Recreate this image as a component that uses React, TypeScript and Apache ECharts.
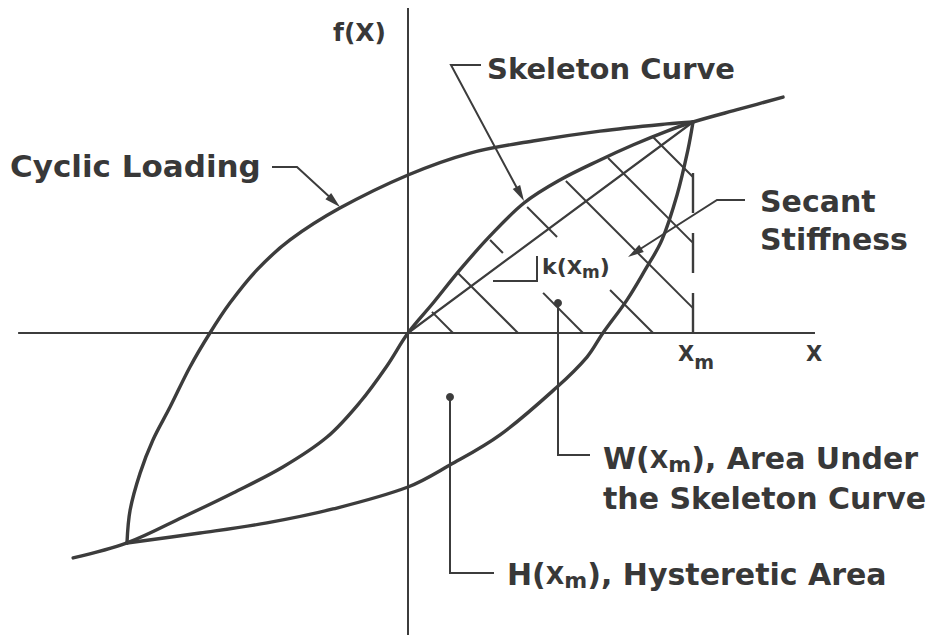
import React, { useEffect, useRef } from 'react';
import * as echarts from 'echarts';

// Diagram units: x in percent of X_m, y in percent of f(X_m)
const skeletonCurve: number[][] = [
  [-117.5, -106.6], [-98.6, -99.5], [-78.9, -87.2], [-61.4, -75.8], [-43.9, -63.5],
  [-28.4, -49.3], [-16.8, -32.7], [-7.4, -15.6], [0, 0], [8.8, 14.2], [18.2, 29.9],
  [28.8, 46.0], [40.7, 61.6], [53.3, 72.5], [67.4, 82.0], [78.9, 89.1], [90.9, 95.7],
  [100, 100], [116.5, 106.2], [131.6, 111.8],
];

const unloadingBranch: number[][] = [
  [100, 100], [90.9, 99.1], [67.4, 95.7], [43.9, 91.0], [21.8, 85.3], [0, 74.9],
  [-23.9, 59.2], [-41.4, 44.1], [-53.0, 29.9], [-62.5, 14.2], [-69.5, 0], [-76.5, -16.1],
  [-83.5, -35.1], [-89.5, -50.7], [-94.0, -66.4], [-97.5, -83.9], [-98.6, -99.5],
];

const reloadingBranch: number[][] = [
  [-98.6, -99.5], [-73.0, -94.8], [-49.5, -90.0], [-26.3, -83.4], [0, -73.0], [14.7, -62.6],
  [32.3, -48.3], [52.3, -25.6], [62.8, -11.4], [68.4, 0], [76.8, 15.6], [83.2, 29.9],
  [89.1, 44.1], [94.4, 65.4], [98.2, 86.7], [100, 100],
];

const secantLine: number[][] = [[0, 0], [100, 100]];
const xmMarker: number[][] = [[100, 75.8], [100, 0]];
const xAxisLine: number[][] = [[-136.8, 0], [142.8, 0]];
const yAxisLine: number[][] = [[0, 154.0], [0, -143.1]];

const hatchSegments: number[][][] = [
  [[8.4, 10.0], [15.8, 0]],
  [[17.5, 28.4], [38.6, 0]],
  [[28.8, 44.1], [33.3, 37.9]],
  [[47.4, 19.0], [61.4, 0]],
  [[41.8, 59.7], [52.3, 45.5]],
  [[70.9, 20.4], [86.0, 0]],
  [[55.4, 72.0], [100, 11.8]],
  [[70.2, 82.9], [100, 42.7]],
  [[85.6, 93.4], [100, 73.9]],
];

const labelFx = 'f(X)';
const labelCyclic = 'Cyclic Loading';
const labelSkeleton = 'Skeleton Curve';
const labelSecant = 'Secant\nStiffness';
const labelAxisX = 'X';

// ---- layout ----
const W = 947;
const H = 635;
const ORIGIN_X = 408;
const ORIGIN_Y = 333;
const PX_PER_X = 2.85;
const PX_PER_Y = 2.11;
const X_MIN = -ORIGIN_X / PX_PER_X;
const X_MAX = (W - ORIGIN_X) / PX_PER_X;
const Y_MIN = -(H - ORIGIN_Y) / PX_PER_Y;
const Y_MAX = ORIGIN_Y / PX_PER_Y;

const INK = '#3c3c3c';
const TEXT = '#383838';
const FONT = 'DejaVu Sans';

function lineSeries(data: number[][], width: number, smooth: number | boolean, extra: any = {}) {
  return {
    type: 'line',
    data,
    showSymbol: false,
    symbol: 'none',
    smooth,
    silent: true,
    animation: false,
    lineStyle: { color: INK, width, cap: 'round', join: 'round', ...(extra.lineStyle || {}) },
    z: extra.z ?? 2,
  };
}

function arrowHead(from: number[], tip: number[], len = 16, hw = 4.2) {
  const dx = tip[0] - from[0];
  const dy = tip[1] - from[1];
  const d = Math.hypot(dx, dy);
  const ux = dx / d;
  const uy = dy / d;
  const bx = tip[0] - ux * len;
  const by = tip[1] - uy * len;
  return {
    type: 'polygon',
    z: 20,
    silent: true,
    shape: { points: [tip, [bx - uy * hw, by + ux * hw], [bx + uy * hw, by - ux * hw]] },
    style: { fill: INK },
  };
}

function leader(points: number[][]) {
  return {
    type: 'polyline',
    z: 20,
    silent: true,
    shape: { points },
    style: { stroke: INK, lineWidth: 2, fill: null, lineJoin: 'miter' },
  };
}

function dot(cx: number, cy: number) {
  return { type: 'circle', z: 20, silent: true, shape: { cx, cy, r: 4 }, style: { fill: INK } };
}

function plainText(text: string, x: number, y: number, fontSize: number, lineHeight?: number) {
  return {
    type: 'text',
    z: 20,
    silent: true,
    x,
    y,
    style: {
      text,
      fill: TEXT,
      fontSize,
      fontFamily: FONT,
      fontWeight: 'bold',
      align: 'left',
      verticalAlign: 'middle',
      ...(lineHeight ? { lineHeight } : {}),
    },
  };
}

function richText(text: string, x: number, y: number, main: number, xs: number, xPad: number, sub: number, subPad: number, lineHeight?: number) {
  const base = { fontFamily: FONT, fontWeight: 'bold', fill: TEXT };
  return {
    type: 'text',
    z: 20,
    silent: true,
    x,
    y,
    style: {
      text,
      fill: TEXT,
      fontSize: main,
      fontFamily: FONT,
      fontWeight: 'bold',
      align: 'left',
      verticalAlign: 'middle',
      ...(lineHeight ? { lineHeight } : {}),
      rich: {
        a: { ...base, fontSize: main },
        x: { ...base, fontSize: xs, padding: [xPad, 0, 0, 0] },
        s: { ...base, fontSize: sub, padding: [subPad, 0, 0, 0] },
      },
    },
  };
}

function buildOption() {
  const series: any[] = [
    lineSeries(xAxisLine, 2, false, { lineStyle: { cap: 'butt' }, z: 1 }),
    lineSeries(yAxisLine, 2, false, { lineStyle: { cap: 'butt' }, z: 1 }),
    lineSeries(secantLine, 2.2, false, { z: 2 }),
    lineSeries(xmMarker, 2.4, false, { lineStyle: { type: [40, 20], dashOffset: 0, cap: 'butt' }, z: 2 }),
    ...hatchSegments.map((seg) => lineSeries(seg, 2, false, { lineStyle: { cap: 'butt' }, z: 2 })),
    lineSeries(skeletonCurve, 3.4, 0.35, { z: 3 }),
    lineSeries(unloadingBranch, 3.4, 0.35, { z: 3 }),
    lineSeries(reloadingBranch, 3.4, 0.35, { z: 3 }),
  ];

  const graphics: any[] = [
    // Cyclic loading leader
    leader([[272, 167], [297, 167], [334, 201]]),
    arrowHead([297, 167], [340, 207]),
    // Skeleton curve leader
    leader([[481, 65], [451, 65], [518, 190]]),
    arrowHead([451, 65], [524, 201]),
    // Secant stiffness leader
    leader([[745, 200], [717, 200], [634, 253]]),
    arrowHead([717, 200], [628, 257]),
    // slope bracket
    leader([[493, 281], [537, 281], [537, 256]]),
    // W leader
    leader([[558, 303], [558, 455], [590, 455]]),
    dot(558, 303),
    // H leader
    leader([[450, 397], [450, 573], [494, 573]]),
    dot(450, 397),

    plainText(labelFx, 333, 32.5, 25),
    plainText(labelCyclic, 10, 166, 31),
    plainText(labelSkeleton, 487, 68.5, 29),
    plainText(labelSecant, 760, 220.3, 30, 38),
    plainText(labelAxisX, 806, 353.5, 21),
    richText('{x|X}{s|m}', 678, 353.5, 21, 21, 0, 19, 16),
    richText('{a|k(}{x|X}{s|m}{a|)}', 542, 266.4, 22, 20, 2, 17, 12),
    richText('{a|W(}{x|X}{s|m}{a|), Area Under}\n{a|the Skeleton Curve}', 603, 478.3, 30, 24, 3, 22, 12, 40),
    richText('{a|H(}{x|X}{s|m}{a|), Hysteretic Area}', 507, 574, 30, 24, 3, 22, 12),
  ];

  return {
    animation: false,
    backgroundColor: '#ffffff',
    grid: { left: 0, right: 0, top: 0, bottom: 0, containLabel: false },
    xAxis: { type: 'value', min: X_MIN, max: X_MAX, show: false },
    yAxis: { type: 'value', min: Y_MIN, max: Y_MAX, show: false },
    tooltip: { show: false },
    series,
    graphic: { elements: graphics },
  };
}

export default function App() {
  const ref = useRef<HTMLDivElement>(null);
  useEffect(() => {
    document.body.style.margin = '0';
    const chart = echarts.init(ref.current as HTMLDivElement, null, { renderer: 'svg' });
    chart.setOption(buildOption() as any);
    return () => {
      chart.dispose();
    };
  }, []);
  return <div ref={ref} style={{ width: W, height: H, background: '#ffffff' }} />;
}
